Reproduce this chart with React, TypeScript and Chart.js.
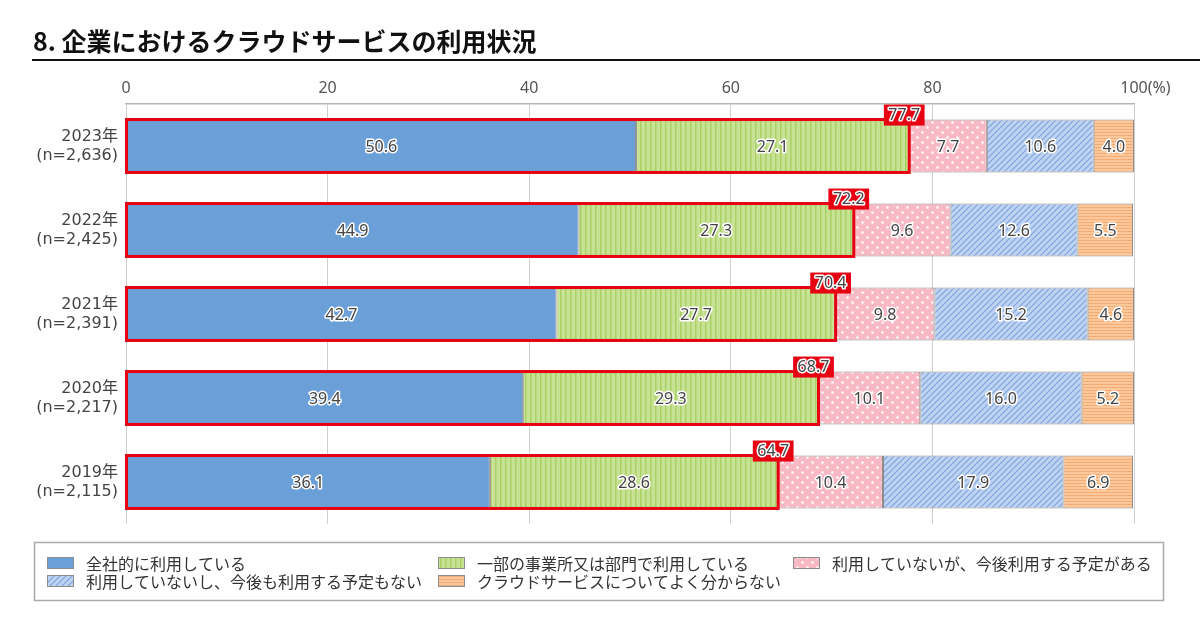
import React, { useEffect, useRef } from "react";
import { Chart, registerables } from "chart.js";

Chart.register(...registerables);

const TITLE = "8. 企業におけるクラウドサービスの利用状況";
const YEARS = ["2023年", "2022年", "2021年", "2020年", "2019年"];
const SAMPLE_SIZES = ["(n=2,636)", "(n=2,425)", "(n=2,391)", "(n=2,217)", "(n=2,115)"];
const SERIES_NAMES = [
  "全社的に利用している",
  "一部の事業所又は部門で利用している",
  "利用していないが、今後利用する予定がある",
  "利用していないし、今後も利用する予定もない",
  "クラウドサービスについてよく分からない",
];
const COMPANY_WIDE = [50.6, 44.9, 42.7, 39.4, 36.1];
const PARTIAL = [27.1, 27.3, 27.7, 29.3, 28.6];
const PLANNED = [7.7, 9.6, 9.8, 10.1, 10.4];
const NOT_PLANNED = [10.6, 12.6, 15.2, 16.0, 17.9];
const UNKNOWN = [4.0, 5.5, 4.6, 5.2, 6.9];
const USING_TOTAL = [77.7, 72.2, 70.4, 68.7, 64.7];
const X_MIN = 0;
const X_MAX = 100;
const X_STEP = 20;
const X_UNIT = "(%)";

const RED = "#e60012";
const TEXT_DARK = "#444";
const LABEL_FONT = '16px "Noto Sans", "Noto Sans CJK JP", sans-serif';
const CJK_FONT = '"Noto Sans CJK JP", sans-serif';

function makeTile(w: number, h: number, draw: (c: CanvasRenderingContext2D) => void) {
  const cv = document.createElement("canvas");
  cv.width = w;
  cv.height = h;
  const c = cv.getContext("2d")!;
  draw(c);
  return cv;
}

function makePatterns(ctx: CanvasRenderingContext2D) {
  const solid = "#6b9fd8";
  const green = makeTile(5, 5, (c) => {
    c.fillStyle = "#c8e295";
    c.fillRect(0, 0, 5, 5);
    c.fillStyle = "#a8d064";
    c.fillRect(0, 0, 1.5, 5);
  });
  const dots = makeTile(10, 10, (c) => {
    c.fillStyle = "#f8b8c4";
    c.fillRect(0, 0, 10, 10);
    c.fillStyle = "#ffffff";
    c.beginPath();
    c.arc(2.5, 2.5, 1.3, 0, Math.PI * 2);
    c.arc(7.5, 7.5, 1.3, 0, Math.PI * 2);
    c.fill();
  });
  const hatch = makeTile(6, 6, (c) => {
    c.fillStyle = "#bed3f2";
    c.fillRect(0, 0, 6, 6);
    c.strokeStyle = "#7fa3dc";
    c.lineWidth = 1.2;
    c.beginPath();
    c.moveTo(-1, 7);
    c.lineTo(7, -1);
    c.moveTo(-1, 1);
    c.lineTo(1, -1);
    c.moveTo(5, 7);
    c.lineTo(7, 5);
    c.stroke();
  });
  const stripes = makeTile(4, 3, (c) => {
    c.fillStyle = "#fcc89c";
    c.fillRect(0, 0, 4, 3);
    c.fillStyle = "#f3ac74";
    c.fillRect(0, 0, 4, 1);
  });
  return [
    solid,
    ctx.createPattern(green, "repeat")!,
    ctx.createPattern(dots, "repeat")!,
    ctx.createPattern(hatch, "repeat")!,
    ctx.createPattern(stripes, "repeat")!,
  ];
}

function haloText(ctx: CanvasRenderingContext2D, text: string, x: number, y: number) {
  ctx.save();
  ctx.font = LABEL_FONT;
  ctx.textAlign = "center";
  ctx.textBaseline = "middle";
  ctx.lineJoin = "round";
  ctx.lineWidth = 3;
  ctx.strokeStyle = "#ffffff";
  ctx.strokeText(text, x, y);
  ctx.fillStyle = TEXT_DARK;
  ctx.fillText(text, x, y);
  ctx.restore();
}

export default function App() {
  const ref = useRef<HTMLCanvasElement | null>(null);

  useEffect(() => {
    const canvas = ref.current!;
    const ctx = canvas.getContext("2d")!;
    const fills = makePatterns(ctx);
    const seriesValues = [COMPANY_WIDE, PARTIAL, PLANNED, NOT_PLANNED, UNKNOWN];

    const overlay = {
      id: "overlay",
      afterDatasetsDraw(chart: any) {
        const c = chart.ctx as CanvasRenderingContext2D;
        const metas = seriesValues.map((_, i) => chart.getDatasetMeta(i));
        metas.forEach((meta: any, di: number) => {
          meta.data.forEach((bar: any, i: number) => {
            const p = bar.getProps(["x", "y", "base"], true);
            haloText(c, seriesValues[di][i].toFixed(1), (p.x + p.base) / 2, p.y + 1);
          });
        });
        metas[0].data.forEach((b0: any, i: number) => {
          const p0 = b0.getProps(["x", "y", "base", "height"], true);
          const p1 = metas[1].data[i].getProps(["x", "y", "base", "height"], true);
          const left = p0.base;
          const right = p1.x;
          const top = p0.y - p0.height / 2;
          c.save();
          c.strokeStyle = RED;
          c.lineWidth = 3;
          c.strokeRect(left, top, right - left, p0.height);
          const txt = USING_TOTAL[i].toFixed(1);
          c.font = LABEL_FONT;
          const w = c.measureText(txt).width + 9;
          const cx = right - 5;
          c.fillStyle = RED;
          c.fillRect(cx - w / 2, top - 15, w, 21);
          c.restore();
          haloText(c, txt, cx, top - 4);
        });
      },
      afterDraw(chart: any) {
        const c = chart.ctx as CanvasRenderingContext2D;
        c.save();
        c.fillStyle = "#111";
        c.font = `bold 25px ${CJK_FONT}`;
        c.textBaseline = "alphabetic";
        c.textAlign = "left";
        c.fillText(TITLE, 33, 51);
        c.fillRect(32, 59, 1168, 2);
        const xs = chart.scales.x;
        c.font = '16px "Noto Sans", sans-serif';
        c.fillStyle = "#555";
        const hundredW = c.measureText(String(X_MAX)).width;
        c.textBaseline = "middle";
        c.fillText(X_UNIT, xs.getPixelForValue(X_MAX) + hundredW / 2, 88);
        c.strokeStyle = "#aaa";
        c.lineWidth = 1.5;
        c.strokeRect(34.5, 542.5, 1129, 58);
        const cols = [47, 438, 793];
        const rows = [563, 581];
        SERIES_NAMES.forEach((name, i) => {
          const col = i < 3 ? cols[i] : cols[i - 3];
          const row = i < 3 ? rows[0] : rows[1];
          c.fillStyle = fills[i] as any;
          c.fillRect(col, row - 6, 27, 12);
          c.strokeStyle = "#8c8c8c";
          c.lineWidth = 1;
          c.strokeRect(col + 0.5, row - 5.5, 26, 11);
          c.fillStyle = "#333";
          c.font = `16px ${CJK_FONT}`;
          c.textBaseline = "middle";
          c.fillText(name, col + 39, row + 1);
        });
        c.restore();
      },
    };

    const chart = new Chart(canvas, {
      type: "bar",
      data: {
        labels: YEARS.map((y, i) => [y, SAMPLE_SIZES[i]]),
        datasets: seriesValues.map((vals, i) => ({
          label: SERIES_NAMES[i],
          data: vals,
          backgroundColor: fills[i] as any,
          borderColor: "#8c8c8c",
          borderWidth: 1,
          borderSkipped: false,
          barPercentage: 1,
          categoryPercentage: 0.63,
        })),
      },
      options: {
        indexAxis: "y",
        responsive: false,
        animation: false,
        layout: { padding: { left: 0, right: 66, top: 74, bottom: 106 } },
        plugins: {
          legend: { display: false },
          tooltip: { enabled: false },
          title: { display: false },
        },
        scales: {
          x: {
            type: "linear",
            position: "top",
            stacked: true,
            min: X_MIN,
            max: X_MAX,
            ticks: {
              stepSize: X_STEP,
              padding: 6,
              color: "#555",
              font: { family: '"Noto Sans", sans-serif', size: 16 },
            },
            grid: { color: "#cfcfcf", drawTicks: false, lineWidth: 1 },
            border: { display: true, color: "#b5b5b5", width: 1.5 },
            afterFit: (s: any) => {
              s.height = 30;
            },
          },
          y: {
            stacked: true,
            ticks: {
              padding: 8,
              color: TEXT_DARK,
              font: { family: '"DejaVu Sans", "Noto Sans CJK JP", sans-serif', size: 16, lineHeight: 1.2 },
            },
            grid: { display: false, drawTicks: false },
            border: { display: false },
            afterFit: (s: any) => {
              s.width = 126;
            },
          },
        },
      },
      plugins: [overlay],
    } as any);

    return () => chart.destroy();
  }, []);

  return (
    <div style={{ position: "fixed", left: 0, top: 0, width: 1200, height: 630, background: "#fff" }}>
      <canvas ref={ref} width={1200} height={630} />
    </div>
  );
}
